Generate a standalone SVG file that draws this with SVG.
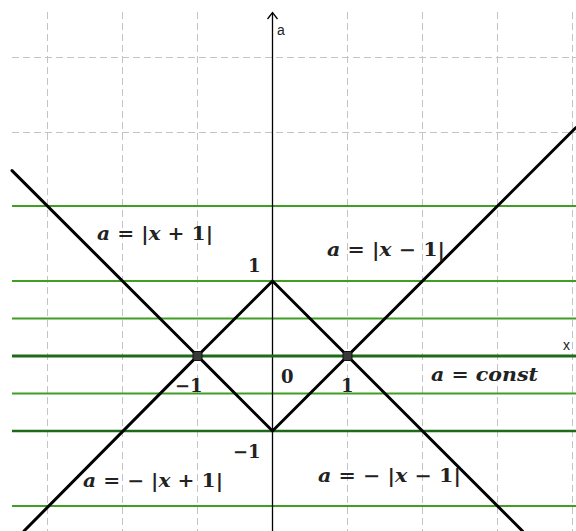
<svg xmlns="http://www.w3.org/2000/svg" width="576" height="531" viewBox="0 0 576 531">
<style>
.grid{stroke:#c4c4c4;stroke-width:1;stroke-dasharray:7,4;fill:none}
.green{stroke:#3f9f22;stroke-width:2;fill:none}
.dgreen{stroke:#1f6a1a;stroke-width:2.5;fill:none}
.curve{stroke:#000;stroke-width:3;fill:none;stroke-linecap:round}
.axis{stroke:#000;stroke-width:1.3;fill:none}
.m{font-family:"DejaVu Serif","Liberation Serif",serif;font-weight:bold;fill:#222}
.i{font-style:italic}
.s{font-family:"Liberation Sans","DejaVu Sans",sans-serif;font-size:14px;fill:#222}
</style>
<rect width="576" height="531" fill="#fff"/>
<g id="grid">
<path class="grid" d="M47.5 12V531M122.5 12V531M197.5 12V531M347.5 12V531M422.5 12V531M497.5 12V531M572.5 12V531"/>
<path class="grid" d="M12 57.5H576M12 132.5H576M12 206.5H576M12 281.5H576M12 431.5H576M12 506.5H576"/>
</g>
<g id="levels">
<path class="green" d="M12 206H576M12 281H576M12 318.5H576M12 393.5H576M12 506H576"/>
<path class="dgreen" d="M12 431H576"/>
</g>
<g id="axes">
<path class="axis" d="M272.5 531V13"/>
<path class="axis" d="M267.5 19L272.5 12.5L277.5 19"/>
<path class="dgreen" d="M12 356H576" style="stroke-width:3"/>
<text class="s" x="277" y="35">a</text>
<text class="s" x="563" y="350">x</text>
</g>
<g id="curves">
<path class="curve" d="M12 170.6L197.5 356L272.5 281L347.5 356L576 127.5"/>
<path class="curve" d="M24 531L197.5 356L272.5 431L347.5 356L522.5 531"/>
</g>
<g id="points">
<rect x="193" y="351.5" width="9" height="9" rx="2" fill="#3a3a3a" stroke="#111" stroke-width="1"/>
<rect x="343" y="351.5" width="9" height="9" rx="2" fill="#3a3a3a" stroke="#111" stroke-width="1"/>
</g>
<g id="labels" font-size="18">
<text class="m" x="97" y="240" textLength="116" lengthAdjust="spacingAndGlyphs"><tspan class="i">a</tspan> = |<tspan class="i">x</tspan> + 1|</text>
<text class="m" x="327" y="256" textLength="118" lengthAdjust="spacingAndGlyphs"><tspan class="i">a</tspan> = |<tspan class="i">x</tspan> − 1|</text>
<text class="m" x="248" y="272">1</text>
<text class="m" x="175" y="392">−1</text>
<text class="m" x="281" y="383">0</text>
<text class="m" x="341" y="392">1</text>
<text class="m" x="233" y="458">−1</text>
<text class="m" x="431" y="381" textLength="107" lengthAdjust="spacingAndGlyphs"><tspan class="i">a</tspan> = <tspan class="i">const</tspan></text>
<text class="m" x="83" y="487" textLength="140" lengthAdjust="spacingAndGlyphs"><tspan class="i">a</tspan> = − |<tspan class="i">x</tspan> + 1|</text>
<text class="m" x="318" y="482" textLength="143" lengthAdjust="spacingAndGlyphs"><tspan class="i">a</tspan> = − |<tspan class="i">x</tspan> − 1|</text>
</g>
</svg>
